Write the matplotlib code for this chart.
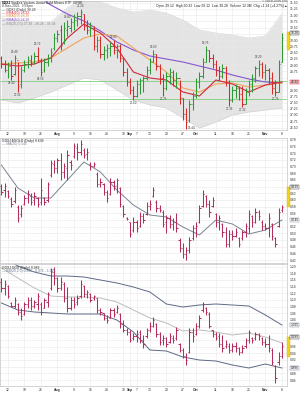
import numpy as np
import matplotlib
matplotlib.use("Agg")
import matplotlib.pyplot as plt
from matplotlib.patches import Rectangle

plt.rcParams['font.family'] = ['Liberation Sans', 'DejaVu Sans']

# ---------------- data ----------------
tick_idx = [2, 7, 12, 17, 22, 27, 32, 37, 39, 41, 45, 50, 55, 59, 65, 70, 75, 80, 85]
tick_lbl = ['12', '19', '26', 'Aug', '9', '16', '23', '30', 'Sep', '7', '13', '20', '27',
            'Oct', '11', '18', '25', 'Nov', '8']
months = {'Aug', 'Sep', 'Oct', 'Nov'}

# main price panel (OHLC)
p_high = [29.36, 29.20, 29.12, 29.20, 29.40, 29.12, 28.96, 29.20, 29.36, 29.40,
          29.52, 29.72, 29.28, 29.28, 29.44, 29.68, 30.28, 30.40, 30.60, 30.72,
          30.80, 30.88, 31.04, 31.12, 31.24, 31.04, 30.80, 30.72, 30.56, 30.16,
          30.16, 29.76, 29.84, 29.92, 30.00, 29.84, 29.84, 29.28, 28.88, 28.48,
          28.16, 28.40, 28.48, 28.56, 28.96, 29.28, 29.60, 29.44, 29.04, 28.64,
          28.72, 28.88, 28.80, 28.72, 28.40, 27.68, 27.28, 27.60, 27.92, 28.48,
          28.72, 29.28, 29.76, 29.60, 29.44, 29.20, 28.96, 29.04, 28.96, 28.40,
          28.16, 28.24, 28.16, 28.16, 28.08, 28.40, 28.64, 28.96, 29.20, 29.12,
          29.04, 28.88, 28.72, 28.40, 29.20, 30.28]
p_low = [28.88, 28.72, 28.48, 28.40, 28.60, 27.92, 28.08, 28.72, 28.88, 28.96,
         29.04, 29.12, 28.56, 28.72, 28.96, 29.12, 29.60, 29.92, 29.60, 29.84,
         30.16, 30.32, 30.40, 30.56, 30.64, 30.40, 30.24, 30.16, 29.60, 29.52,
         29.28, 29.20, 29.28, 29.36, 29.44, 29.28, 29.12, 28.56, 28.16, 27.84,
         27.60, 27.72, 27.84, 27.92, 28.40, 28.64, 29.12, 28.80, 28.24, 27.76,
         28.00, 28.24, 28.16, 28.08, 27.44, 26.80, 26.44, 26.72, 27.20, 27.68,
         28.08, 28.48, 29.12, 29.12, 28.88, 28.56, 28.40, 28.48, 28.16, 27.36,
         27.52, 27.68, 27.60, 27.32, 27.44, 27.76, 27.92, 28.32, 28.56, 28.48,
         28.40, 28.24, 27.84, 27.76, 27.92, 29.12]
p_open = [29.28, 29.04, 28.80, 28.96, 28.64, 29.20, 28.24, 28.80, 29.04, 29.20,
          29.12, 29.36, 29.20, 28.80, 29.12, 29.28, 29.68, 30.08, 30.40, 29.92,
          30.40, 30.48, 30.72, 30.80, 30.96, 31.04, 30.56, 30.40, 30.48, 29.76,
          30.00, 29.44, 29.60, 29.68, 29.76, 29.60, 29.76, 29.28, 28.72, 28.32,
          28.00, 27.76, 28.24, 28.40, 28.48, 28.80, 29.12, 29.44, 28.96, 28.48,
          28.08, 28.56, 28.72, 28.40, 28.48, 27.68, 27.04, 26.80, 27.44, 27.76,
          28.32, 28.56, 29.12, 29.60, 29.28, 29.04, 28.80, 28.56, 28.88, 28.32,
          27.60, 28.00, 28.08, 27.84, 27.44, 27.92, 28.24, 28.48, 28.88, 29.04,
          28.72, 28.80, 28.48, 28.08, 27.92, 29.12]
p_close = [29.04, 28.80, 28.96, 28.56, 29.28, 28.16, 28.80, 29.04, 29.20, 29.08,
           29.36, 29.20, 28.72, 29.12, 29.28, 29.52, 30.08, 30.24, 29.80, 30.48,
           30.56, 30.72, 30.80, 30.96, 31.12, 30.56, 30.40, 30.48, 29.76, 30.00,
           29.44, 29.60, 29.68, 29.76, 29.60, 29.76, 29.28, 28.72, 28.32, 28.00,
           27.76, 28.24, 28.40, 28.48, 28.80, 29.12, 29.44, 28.96, 28.48, 28.08,
           28.56, 28.72, 28.40, 28.48, 27.68, 27.04, 26.72, 27.44, 27.76, 28.32,
           28.56, 29.12, 29.60, 29.28, 29.04, 28.80, 28.56, 28.88, 28.32, 27.60,
           28.00, 28.08, 27.84, 27.44, 27.92, 28.24, 28.48, 28.88, 29.04, 28.72,
           28.80, 28.48, 28.08, 27.92, 29.04, 30.08]
p_today = [29.60, 30.32, 30.28]          # low, high, last of the current bar

ma_idx = [0, 5, 10, 15, 20, 25, 30, 35, 40, 45, 50, 55, 60, 65, 70, 75, 80, 85]
ema_fast = [29.04, 28.96, 29.04, 29.28, 30.08, 30.64, 30.28, 29.68, 28.72, 28.48,
            28.40, 27.92, 27.76, 28.40, 28.24, 27.92, 28.20, 28.32]
ema_mid = [29.04, 29.08, 29.12, 29.28, 29.68, 30.08, 30.24, 30.16, 29.68, 29.20,
           28.72, 28.08, 27.92, 28.24, 28.28, 28.12, 28.20, 28.28]
sma_slow = [32.40, 32.08, 31.80, 31.40, 31.04, 30.76, 30.36, 29.92, 29.60, 29.36,
            29.24, 29.12, 28.96, 28.80, 28.60, 28.44, 28.32, 28.28]
bb_up = [30.88, 30.80, 30.72, 30.72, 31.28, 31.72, 31.52, 31.28, 31.12, 31.20,
         31.08, 30.80, 30.40, 30.28, 30.20, 30.08, 30.16, 31.04]
bb_lo = [27.60, 27.48, 27.68, 27.92, 28.20, 28.48, 28.40, 28.00, 27.60, 27.40,
         27.28, 26.88, 26.48, 26.72, 27.00, 27.12, 27.20, 27.28]
hlevels = [28.36, 27.64]
hi_lab = [4, 11, 20, 24, 34, 46, 62, 78]
lo_lab = [3, 5, 12, 40, 49, 69, 73, 83]
side_lab = [56]

# middle ratio panel
r_high = [0.648, 0.651, 0.630, 0.609, 0.639, 0.585, 0.585, 0.615, 0.630, 0.621,
          0.624, 0.609, 0.666, 0.609, 0.654, 0.720, 0.720, 0.726, 0.741, 0.711,
          0.750, 0.720, 0.771, 0.771, 0.780, 0.756, 0.756, 0.714, 0.714, 0.684,
          0.666, 0.651, 0.630, 0.666, 0.660, 0.666, 0.639, 0.585, 0.549, 0.534,
          0.549, 0.540, 0.564, 0.561, 0.594, 0.600, 0.639, 0.600, 0.585, 0.570,
          0.555, 0.555, 0.546, 0.561, 0.486, 0.471, 0.459, 0.489, 0.525, 0.534,
          0.585, 0.630, 0.615, 0.600, 0.609, 0.561, 0.555, 0.531, 0.519, 0.510,
          0.510, 0.516, 0.489, 0.510, 0.531, 0.570, 0.555, 0.576, 0.570, 0.540,
          0.531, 0.561, 0.531, 0.489, 0.576, 0.585]
r_low = [0.615, 0.609, 0.606, 0.579, 0.591, 0.534, 0.549, 0.585, 0.591, 0.585,
         0.585, 0.579, 0.585, 0.585, 0.594, 0.669, 0.681, 0.681, 0.660, 0.666,
         0.660, 0.690, 0.726, 0.720, 0.735, 0.726, 0.720, 0.690, 0.699, 0.639,
         0.639, 0.615, 0.594, 0.615, 0.630, 0.621, 0.579, 0.549, 0.540, 0.489,
         0.504, 0.504, 0.519, 0.531, 0.555, 0.570, 0.609, 0.564, 0.564, 0.519,
         0.501, 0.516, 0.510, 0.504, 0.444, 0.426, 0.420, 0.441, 0.480, 0.489,
         0.531, 0.579, 0.579, 0.549, 0.579, 0.519, 0.510, 0.489, 0.459, 0.459,
         0.480, 0.489, 0.459, 0.480, 0.489, 0.501, 0.519, 0.531, 0.540, 0.510,
         0.510, 0.489, 0.480, 0.459, 0.519, 0.564]
r_open = [0.642, 0.630, 0.627, 0.603, 0.597, 0.579, 0.558, 0.588, 0.606, 0.612,
          0.600, 0.606, 0.594, 0.606, 0.600, 0.675, 0.708, 0.696, 0.720, 0.684,
          0.696, 0.714, 0.732, 0.756, 0.744, 0.750, 0.738, 0.708, 0.702, 0.678,
          0.648, 0.648, 0.624, 0.618, 0.654, 0.642, 0.636, 0.582, 0.546, 0.534,
          0.510, 0.534, 0.522, 0.552, 0.558, 0.582, 0.612, 0.594, 0.576, 0.564,
          0.534, 0.546, 0.528, 0.534, 0.480, 0.456, 0.438, 0.450, 0.486, 0.516,
          0.534, 0.582, 0.612, 0.588, 0.582, 0.558, 0.534, 0.528, 0.504, 0.468,
          0.498, 0.492, 0.486, 0.486, 0.504, 0.516, 0.552, 0.534, 0.564, 0.534,
          0.522, 0.516, 0.528, 0.486, 0.522, 0.570]
r_close = [0.624, 0.642, 0.612, 0.588, 0.630, 0.546, 0.576, 0.606, 0.618, 0.594,
           0.612, 0.588, 0.630, 0.594, 0.648, 0.711, 0.696, 0.720, 0.684, 0.702,
           0.735, 0.705, 0.762, 0.744, 0.768, 0.735, 0.744, 0.702, 0.708, 0.648,
           0.654, 0.624, 0.606, 0.654, 0.642, 0.660, 0.588, 0.558, 0.543, 0.498,
           0.534, 0.516, 0.552, 0.540, 0.582, 0.588, 0.630, 0.576, 0.570, 0.528,
           0.546, 0.528, 0.534, 0.516, 0.456, 0.438, 0.450, 0.480, 0.516, 0.522,
           0.576, 0.618, 0.588, 0.564, 0.600, 0.534, 0.546, 0.504, 0.468, 0.498,
           0.492, 0.504, 0.468, 0.504, 0.522, 0.558, 0.534, 0.564, 0.552, 0.522,
           0.516, 0.546, 0.492, 0.468, 0.564, 0.579]
r_today = [0.579, 0.639, 0.639]
r_ma = [0.705, 0.636, 0.606, 0.606, 0.660, 0.714, 0.684, 0.630, 0.585, 0.555,
        0.549, 0.519, 0.495, 0.540, 0.528, 0.498, 0.510, 0.540]

# bottom ratio panel with Bollinger bands
b_high = [1.166, 1.160, 1.145, 1.094, 1.109, 1.091, 1.076, 1.094, 1.109, 1.109,
          1.100, 1.121, 1.094, 1.106, 1.124, 1.196, 1.199, 1.169, 1.169, 1.154,
          1.139, 1.109, 1.109, 1.115, 1.160, 1.145, 1.130, 1.121, 1.115, 1.106,
          1.076, 1.061, 1.055, 1.076, 1.076, 1.085, 1.061, 1.040, 1.016, 1.010,
          1.001, 1.010, 1.010, 0.995, 1.016, 1.034, 1.049, 1.031, 1.004, 0.995,
          0.989, 1.001, 0.995, 1.019, 0.971, 0.956, 0.941, 1.016, 1.016, 1.031,
          1.055, 1.094, 1.079, 1.064, 1.010, 1.004, 1.001, 0.995, 0.980, 0.971,
          0.971, 0.974, 0.959, 0.965, 0.986, 1.010, 0.989, 1.004, 1.001, 0.989,
          0.986, 0.995, 0.956, 0.905, 0.944, 0.974]
b_low = [1.124, 1.115, 1.106, 1.079, 1.076, 1.055, 1.040, 1.055, 1.076, 1.070,
         1.076, 1.070, 1.055, 1.076, 1.079, 1.130, 1.145, 1.124, 1.130, 1.094,
         1.064, 1.070, 1.076, 1.085, 1.106, 1.109, 1.106, 1.094, 1.100, 1.061,
         1.055, 1.040, 1.031, 1.046, 1.049, 1.061, 1.016, 1.004, 0.995, 0.974,
         0.980, 0.974, 0.971, 0.956, 0.986, 1.004, 1.019, 0.989, 0.965, 0.965,
         0.959, 0.971, 0.971, 0.980, 0.944, 0.926, 0.905, 0.941, 0.974, 0.995,
         1.016, 1.064, 1.055, 1.016, 0.989, 0.980, 0.959, 0.944, 0.956, 0.941,
         0.944, 0.944, 0.935, 0.941, 0.956, 0.971, 0.971, 0.980, 0.980, 0.965,
         0.959, 0.944, 0.905, 0.851, 0.905, 0.926]
b_open = [1.154, 1.136, 1.142, 1.091, 1.082, 1.088, 1.064, 1.058, 1.088, 1.100,
          1.082, 1.088, 1.088, 1.076, 1.094, 1.136, 1.184, 1.166, 1.136, 1.148,
          1.106, 1.076, 1.100, 1.094, 1.112, 1.142, 1.118, 1.118, 1.106, 1.106,
          1.070, 1.061, 1.046, 1.046, 1.070, 1.064, 1.058, 1.028, 1.010, 1.004,
          0.986, 0.992, 1.004, 0.980, 0.992, 1.010, 1.022, 1.028, 0.998, 0.980,
          0.986, 0.974, 0.986, 0.986, 0.968, 0.950, 0.932, 0.944, 1.004, 0.998,
          1.022, 1.070, 1.076, 1.058, 1.010, 0.998, 0.992, 0.968, 0.962, 0.962,
          0.950, 0.962, 0.956, 0.944, 0.962, 0.980, 0.986, 0.986, 0.998, 0.986,
          0.974, 0.968, 0.950, 0.902, 0.914, 0.932]
b_close = [1.136, 1.148, 1.112, 1.082, 1.100, 1.064, 1.052, 1.088, 1.100, 1.082,
           1.094, 1.112, 1.064, 1.100, 1.118, 1.184, 1.166, 1.136, 1.154, 1.106,
           1.076, 1.100, 1.088, 1.106, 1.148, 1.118, 1.124, 1.100, 1.112, 1.070,
           1.064, 1.046, 1.040, 1.070, 1.058, 1.076, 1.028, 1.010, 1.004, 0.980,
           0.992, 0.998, 0.980, 0.968, 1.010, 1.022, 1.040, 0.998, 0.974, 0.986,
           0.968, 0.992, 0.980, 1.010, 0.950, 0.932, 0.920, 1.004, 0.992, 1.022,
           1.046, 1.088, 1.064, 1.022, 0.998, 0.986, 0.968, 0.956, 0.968, 0.950,
           0.962, 0.956, 0.944, 0.956, 0.980, 1.004, 0.980, 0.998, 0.992, 0.974,
           0.968, 0.956, 0.914, 0.866, 0.932, 0.962]
b_today = [0.929, 0.989, 0.989]
b_bb_up = [1.235, 1.202, 1.184, 1.172, 1.172, 1.169, 1.160, 1.151, 1.139, 1.124,
           1.088, 1.079, 1.085, 1.088, 1.085, 1.082, 1.055, 1.025]
b_bb_mid = [1.196, 1.166, 1.136, 1.112, 1.109, 1.109, 1.106, 1.094, 1.070, 1.046,
            1.031, 1.007, 1.010, 1.004, 0.995, 1.001, 0.989, 0.971]
b_bb_lo = [1.091, 1.070, 1.064, 1.061, 1.058, 1.058, 1.058, 1.040, 1.004, 0.950,
           0.947, 0.929, 0.920, 0.917, 0.905, 0.896, 0.908, 0.896]

# ---------------- figure ----------------
W, H = 300, 397
fig = plt.figure(figsize=(W / 100, H / 100), dpi=100)
fig.patch.set_facecolor('white')
XL = (-0.42, 86.55)
TXT = '#333333'
FS = 2.4


def px_axes(top, bottom, left=0, right=287):
    return fig.add_axes([left / W, 1 - bottom / H, (right - left) / W, (bottom - top) / H])


def style(ax, ylim, yticks, fmt, xlabels, tag_vals):
    ax.set_xlim(*XL)
    ax.set_ylim(*ylim)
    ax.set_facecolor('white')
    for s in ax.spines.values():
        s.set_color('#c4c4c4')
        s.set_linewidth(0.5)
    ax.yaxis.tick_right()
    step = yticks[1] - yticks[0]
    ax.set_yticks(yticks)
    labels = []
    for v in yticks:
        near = any(abs(v - t) < 0.75 * step for t in tag_vals)
        labels.append('' if near else fmt.format(v))
    ax.set_yticklabels(labels)
    ax.tick_params(axis='y', length=0, labelsize=FS, pad=2, labelcolor=TXT)
    ax.set_xticks(tick_idx)
    if xlabels:
        ax.set_xticklabels(tick_lbl)
        for t in ax.get_xticklabels():
            if t.get_text() in months:
                t.set_fontweight('bold')
    else:
        ax.set_xticklabels([])
    ax.tick_params(axis='x', length=0, labelsize=FS, pad=1.5, labelcolor=TXT)
    ax.grid(True, color='#e9e9e9', lw=0.4)
    ax.set_axisbelow(True)


def ohlc(ax, o, h, l, c, colors, lw=0.75, tick=0.38):
    x = np.arange(len(o))
    ax.vlines(x, l, h, colors=colors, lw=lw, zorder=4)
    ax.hlines(o, x - tick, x, colors=colors, lw=lw, zorder=4)
    ax.hlines(c, x, x + tick, colors=colors, lw=lw, zorder=4)


def today_bar(ax, lo, hi):
    ax.add_patch(Rectangle((86.65, lo), 0.85, hi - lo, facecolor='#f2d21b',
                           edgecolor='#e0b800', lw=0.3, clip_on=False, zorder=6))


def tag(ax, val, text, fc='white', ec='#222222', tc='#111111'):
    ax.text(1.013, val, text, transform=ax.get_yaxis_transform(), fontsize=FS - 0.1,
            color=tc, va='center', ha='left', zorder=7, clip_on=False,
            bbox=dict(boxstyle='square,pad=0.12', fc=fc, ec=ec, lw=0.3))


# ---- top panel
top_tags = [p_today[2], ema_fast[-1]]
ax1 = px_axes(1, 130)
style(ax1, (26.40, 31.56), np.arange(26.5, 31.51, 0.25), '{:.2f}', True, top_tags)
ax1.fill_between(ma_idx, bb_lo, bb_up, color='#e4e4e4', lw=0, zorder=0.5)
ax1.plot(ma_idx, bb_up, color='#d2d2d2', lw=0.4, zorder=0.6)
ax1.plot(ma_idx, bb_lo, color='#d2d2d2', lw=0.4, zorder=0.6)
for lv in hlevels:
    ax1.axhline(lv, color='#7fcf7f', lw=0.6, zorder=1)
ax1.plot(ma_idx, sma_slow, color='#8a55d0', lw=0.8, zorder=2)
ax1.plot(ma_idx, ema_mid, color='#f0a35a', lw=0.8, zorder=2)
ax1.plot(ma_idx, ema_fast, color='#d0283c', lw=0.8, zorder=3)
up = ['#2e9a35' if c >= o else '#d42b2b' for o, c in zip(p_open, p_close)]
ohlc(ax1, p_open, p_high, p_low, p_close, up)
for i in hi_lab:
    ax1.text(i, p_high[i] + 0.04, f'{p_high[i]:.2f}', fontsize=2.2, color='#444',
             ha='center', va='bottom', zorder=5)
for i in lo_lab:
    ax1.text(i, p_low[i] - 0.04, f'{p_low[i]:.2f}', fontsize=2.2, color='#444',
             ha='center', va='top', zorder=5, clip_on=False)
for i in side_lab:
    ax1.text(i + 0.6, p_low[i] + 0.03, f'{p_low[i]:.2f}', fontsize=2.2, color='#444',
             ha='left', va='center', zorder=5)
today_bar(ax1, p_today[0], p_today[1])
tag(ax1, p_today[2], f'{p_today[2]:.2f}', fc='#f7f7f7')
tag(ax1, ema_fast[-1], f'{ema_fast[-1]:.2f}', fc='#f3c7c7', ec='#d0283c')

# ---- middle panel
mid_tags = [r_today[2], r_ma[-1]]
ax2 = px_axes(138, 263)
style(ax2, (0.411, 0.786), np.arange(0.42, 0.781, 0.02), '{:.2f}', False, mid_tags)
ax2.plot(ma_idx, r_ma, color='#7a8492', lw=0.7, zorder=2)
ohlc(ax2, r_open, r_high, r_low, r_close, '#b42d5f')
today_bar(ax2, r_today[0], r_today[1])
tag(ax2, r_today[2], f'{r_today[2]:.3f}')
tag(ax2, r_ma[-1], f'{r_ma[-1]:.3f}', ec='#7a8492')

# ---- bottom panel
bot_tags = [b_bb_up[-1], b_today[2], b_bb_lo[-1]]
ax3 = px_axes(264, 386)
style(ax3, (0.842, 1.208), np.arange(0.86, 1.201, 0.02), '{:.2f}', True, bot_tags)
ax3.plot(ma_idx, b_bb_up, color='#5d6a86', lw=0.7, zorder=2)
ax3.plot(ma_idx, b_bb_mid, color='#bdbdbd', lw=0.7, zorder=2)
ax3.plot(ma_idx, b_bb_lo, color='#5d6a86', lw=0.7, zorder=2)
ohlc(ax3, b_open, b_high, b_low, b_close, '#b42d5f')
today_bar(ax3, b_today[0], b_today[1])
tag(ax3, b_bb_up[-1], f'{b_bb_up[-1]:.3f}', ec='#5d6a86')
tag(ax3, b_today[2], f'{b_today[2]:.3f}')
tag(ax3, b_bb_lo[-1], f'{b_bb_lo[-1]:.3f}', ec='#5d6a86')

# ---------------- header texts ----------------
def ftxt(x, y, s, **kw):
    kw.setdefault('fontsize', FS)
    kw.setdefault('color', TXT)
    fig.text(x / W, 1 - y / H, s, va='center', ha=kw.pop('ha', 'left'), **kw)


ftxt(2, 2.5, 'GDXJ', fontweight='bold', color='#111')
ftxt(11, 2.5, 'VanEck Vectors Junior Gold Miners ETF  NYSE', color='#222')
ftxt(2, 6, '8-Nov-2021  3:59pm', color='#444')
ftxt(2, 9.5, '\u2014 GDXJ (Daily) 30.28', color='#333')
ftxt(2, 13, '\u2014 EMA(10) 28.32', color='#d0283c')
ftxt(2, 16.5, '\u2014 EMA(20) 28.28', color='#e8903a')
ftxt(2, 20, '\u2014 SMA(50) 28.28', color='#8a55d0')
ftxt(2, 23.5, '\u2014 BB(20,2.0) 27.28 - 28.26 - 31.04', color='#888')
ftxt(287, 1.5, '\u00a9 StockCharts.com', ha='right', fontsize=2.1, color='#555')
ftxt(287, 5.5, 'Open 29.12  High 30.32  Low 29.12  Last 30.28  Volume 12.3M  '
     'Chg +1.24 (+4.27%)\u25b2', ha='right', color='#222')

ftxt(2, 141, 'GDXJ:$GOLD (Daily) 0.639', color='#222')
ftxt(2, 144.5, '\u2014 MA(20) 0.540', color='#7a8492')
ftxt(2, 267.5, 'GDXJ:GDX (Daily) 0.989', color='#222')
ftxt(2, 271, '\u2014 BB(20,2.0) 0.896 - 0.971 - 1.025', color='#5d6a86')

fig.savefig('out.png', dpi=100, facecolor='white')
